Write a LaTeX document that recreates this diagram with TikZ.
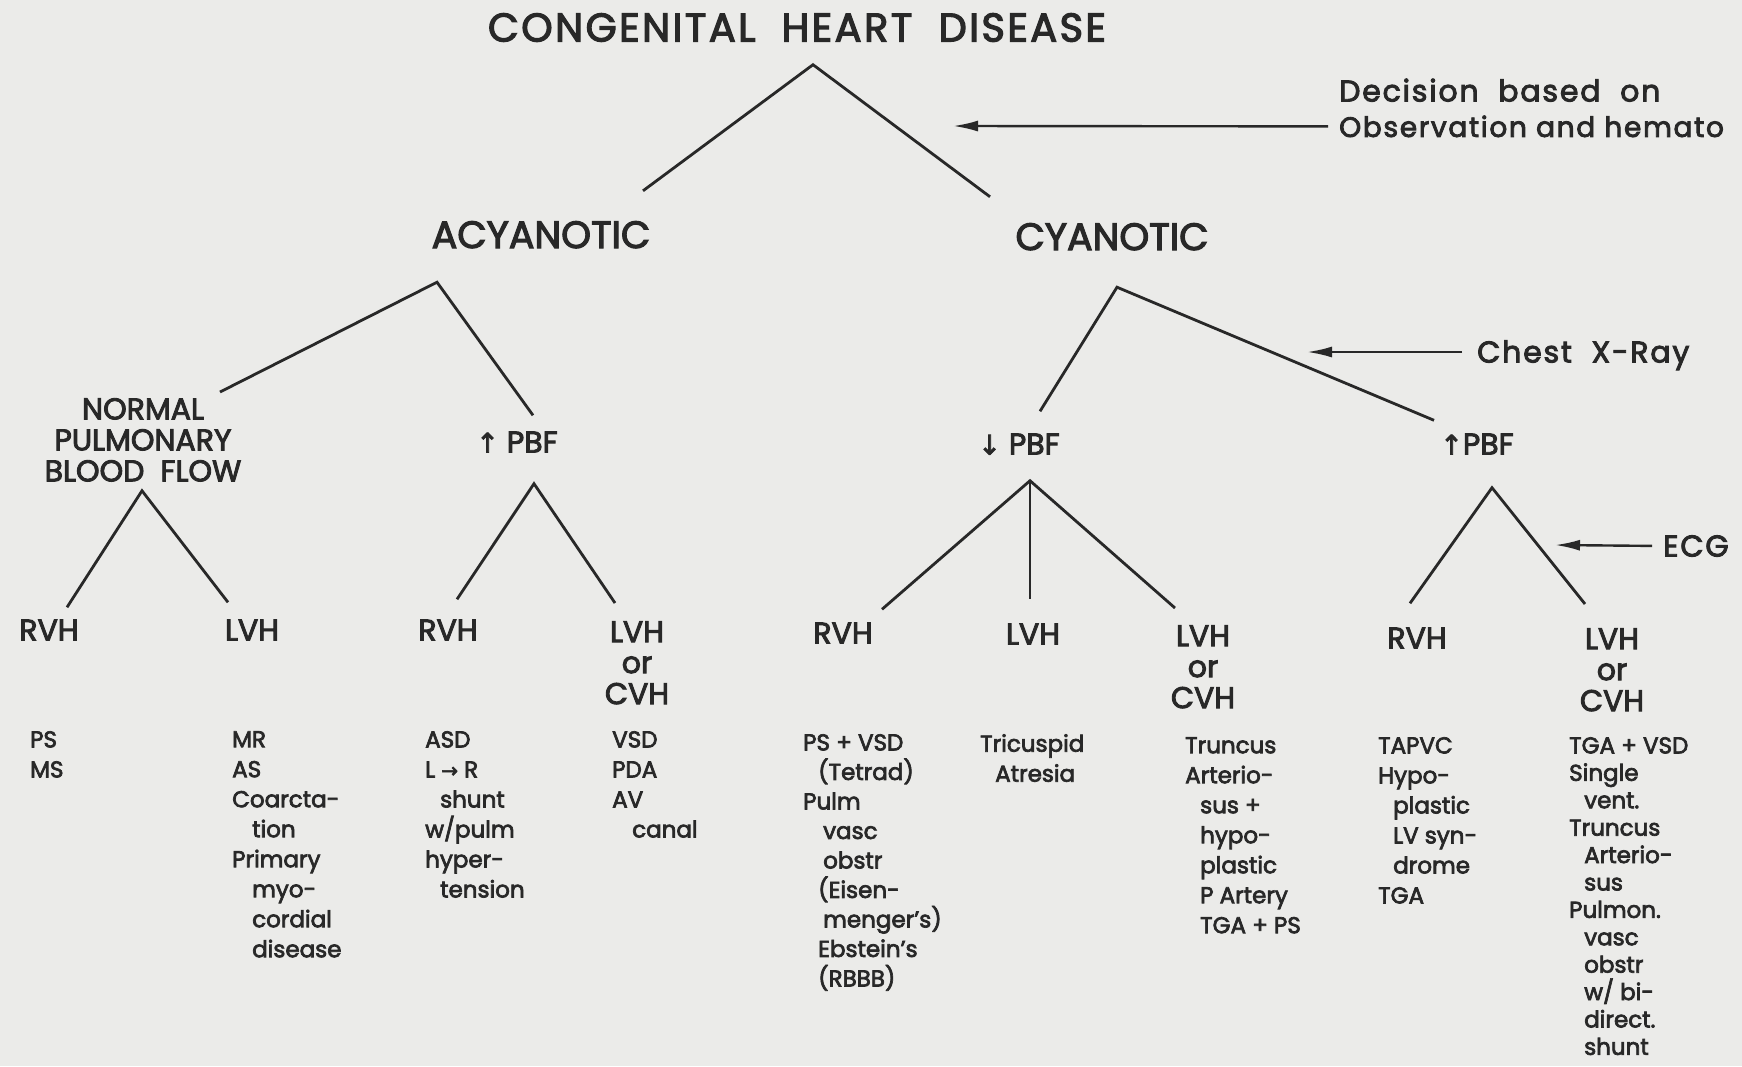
\documentclass[tikz,border=0pt]{standalone}
\usepackage{fontspec}
\setmainfont{Poppins}[FakeBold=3]
\newfontfamily\symfont{DejaVu Sans}[FakeBold=3]
\newfontfamily\annfont{Poppins}[LetterSpace=6, FakeBold=3]
\usetikzlibrary{positioning,arrows.meta}
\definecolor{paper}{RGB}{235,235,233}
\definecolor{ink}{RGB}{40,40,40}
\newcommand\indw{\hspace*{20pt}}
\newcommand\indn{\hspace*{15pt}}
\newcommand\uparr{{\symfont\fontsize{27}{27}\selectfont ↑}}
\newcommand\dnarr{{\symfont\fontsize{27}{27}\selectfont ↓}}
\newcommand\rarr{{\symfont\fontsize{20}{20}\selectfont →}}
\begin{document}
\begin{tikzpicture}[x=1pt, y=-1pt,
      every node/.style = {inner sep=0pt, text=ink},
      title/.style = {font=\annfont\fontsize{40}{40}\selectfont, text height=27pt, text depth=0pt},
      kind/.style = {font=\fontsize{38}{38}\selectfont, text height=26pt, text depth=0pt},
      lbl/.style = {font=\fontsize{30}{31}\selectfont},
      flow/.style = {lbl, text height=21pt, text depth=0pt},
      stack/.style = {lbl, align=center, anchor=north},
      list/.style = {font=\fontsize{23}{30}\selectfont, align=left, anchor=north west},
      ann/.style = {font=\annfont\fontsize{30}{30}\selectfont, text height=21pt, text depth=0pt, anchor=west},
      branch/.style = {draw=ink, line width=2.8pt},
      pointer/.style = {draw=ink, line width=2.4pt, -{Latex[length=25pt,width=11pt]}}]
  \useasboundingbox (0,0) rectangle (1742,1066);
  \fill[paper] (0,0) rectangle (1742,1066);

  \node[title] (chd) at (797,28) {CONGENITAL\ \ HEART\ \ DISEASE};
  \node[kind] (acy) at (541,235) {ACYANOTIC};
  \node[kind] (cya) at (1112,237) {CYANOTIC};

  \node[stack] (npbf) at (143,398) {NORMAL\\PULMONARY\\BLOOD\ \ FLOW};
  \node[flow] (upl) at (517,442) {\uparr\ PBF};
  \node[flow] (dpbf) at (1019,444) {\dnarr\ PBF};
  \node[flow] (upr) at (1477,444) {\uparr PBF};

  \node[flow] (rvh1) at (49,630) {RVH};
  \node[flow] (lvh1) at (252,630) {LVH};
  \node[flow] (rvh2) at (448,630) {RVH};
  \node[stack] (lvh2) at (637,621) {LVH\\or\\CVH};
  \node[flow] (rvh3) at (843,633) {RVH};
  \node[flow] (lvh3) at (1033,634) {LVH};
  \node[stack] (lvh4) at (1203,625) {LVH\\or\\CVH};
  \node[flow] (rvh4) at (1417,638) {RVH};
  \node[stack] (lvh5) at (1612,628) {LVH\\or\\CVH};

  \node[list] (dx1) at (30,731) {PS\\MS};
  \node[list] (dx2) at (232,731) {MR\\AS\\Coarcta-\\\indw tion\\Primary\\\indw myo-\\\indw cordial\\\indw disease};
  \node[list] (dx3) at (425,731) {ASD\\L \rarr\ R\\\indn shunt\\w/pulm\\hyper-\\\indn tension};
  \node[list] (dx4) at (612,731) {VSD\\PDA\\AV\\\indw canal};
  \node[list, font=\fontsize{23}{29.5}\selectfont] (dx5) at (803,734) {PS + VSD\\\indn (Tetrad)\\Pulm\\\indw vasc\\\indw obstr\\\indn (Eisen-\\\indw menger's)\\\indn Ebstein's\\\indn (RBBB)};
  \node[list] (dx6) at (980,734) {Tricuspid\\\indn Atresia};
  \node[list] (dx7) at (1185,737) {Truncus\\Arterio-\\\indn sus +\\\indn hypo-\\\indn plastic\\\indn P Artery\\\indn TGA + PS};
  \node[list] (dx8) at (1378,737) {TAPVC\\Hypo-\\\indn plastic\\\indn LV syn-\\\indn drome\\TGA};
  \node[list, font=\fontsize{23}{27.4}\selectfont] (dx9) at (1569,737) {TGA + VSD\\Single\\\indn vent.\\Truncus\\\indn Arterio-\\\indn sus\\Pulmon.\\\indn vasc\\\indn obstr\\\indn w/ bi-\\\indn direct.\\\indn shunt};

  \node[ann] (dec1) at (1339,91) {Decision\ \ based\ \ on};
  \node[ann, font=\annfont\fontsize{28}{28}\selectfont, below=14pt of dec1.south west, anchor=north west] (dec2) {Observation and hemato};
  \node[ann] (xray) at (1477,352) {Chest\ \ X-Ray};
  \node[ann] (ecg) at (1663,546) {ECG};

  \draw[branch] ([shift={(102,-31)}]acy.north) -- ([shift={(16,23)}]chd.south) -- ([shift={(-122,-27)}]cya.north);
  \draw[branch] ([shift={(77,-6)}]npbf.north) -- ([shift={(-104,34)}]acy.south) -- ([shift={(16,-16)}]upl.north);
  \draw[branch] ([shift={(21,-22)}]dpbf.north) -- ([shift={(5,37)}]cya.south) -- ([shift={(-43,-13)}]upr.north);
  \draw[branch] ([shift={(18,-12)}]rvh1.north) -- ([shift={(-1,9)}]npbf.south) -- ([shift={(-24,-17)}]lvh1.north);
  \draw[branch] ([shift={(9,-20)}]rvh2.north) -- ([shift={(17,31)}]upl.south) -- ([shift={(-22,-18)}]lvh2.north);
  \draw[branch] ([shift={(39,-13)}]rvh3.north) -- ([shift={(11,26)}]dpbf.south) -- ([shift={(-28,-17)}]lvh4.north);
  \draw[branch] ([shift={(11,26)}]dpbf.south) -- ([shift={(-3,-24)}]lvh3.north);
  \draw[branch] ([shift={(-7,-24)}]rvh4.north) -- ([shift={(15,33)}]upr.south) -- ([shift={(-27,-24)}]lvh5.north);

  \coordinate (decTip) at (953,126);
  \coordinate (xrayTip) at (1307,352);
  \coordinate (ecgTip) at (1555,545);
  \draw[pointer, shorten <=11pt] (dec2.west) -- (decTip);
  \draw[pointer, shorten <=15pt] (xray.west) -- (xrayTip);
  \draw[pointer, shorten <=11pt] (ecg.west) -- (ecgTip);
\end{tikzpicture}
\end{document}
